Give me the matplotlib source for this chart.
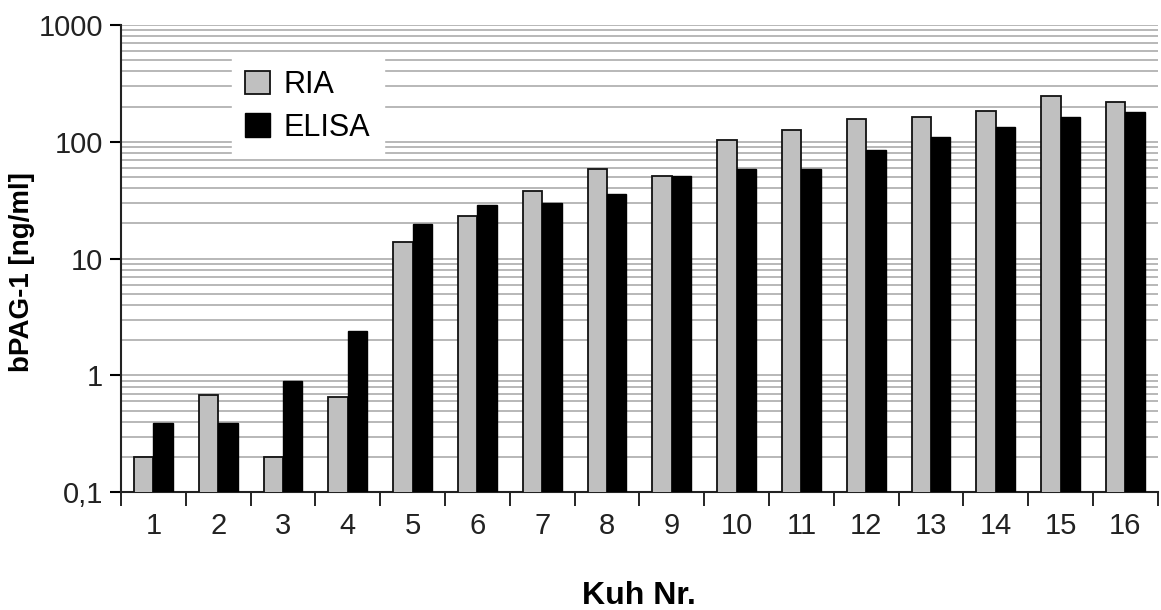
import matplotlib.pyplot as plt
import numpy as np
from matplotlib.ticker import FixedLocator, NullFormatter, LogLocator

plt.rcParams["font.family"] = ["Liberation Sans", "DejaVu Sans"]

cows = [str(i) for i in range(1, 17)]
ria = [0.2, 0.68, 0.2, 0.65, 14, 23, 38, 58, 51, 103, 127, 157, 163, 185, 249, 218]
elisa = [0.39, 0.39, 0.89, 2.4, 19.7, 28.6, 29.7, 35.5, 51, 58, 58, 85, 109, 134, 164, 179]

y_ticks = [0.1, 1, 10, 100, 1000]
y_tick_labels = ["0,1", "1", "10", "100", "1000"]

fig = plt.figure(figsize=(11.61, 6.10), dpi=100)
ax = fig.add_axes([0.1042, 0.193, 0.893, 0.766])

x = np.arange(len(cows))
width = 0.3

ax.bar(x - width / 2, ria, width, color="#c0c0c0", edgecolor="#111111",
       linewidth=1.3, label="RIA", zorder=3)
ax.bar(x + width / 2, elisa, width, color="black", edgecolor="black",
       linewidth=1.0, label="ELISA", zorder=3)

ax.set_yscale("log")
ax.set_ylim(0.1, 1000)
ax.set_xlim(-0.5, len(cows) - 0.5)

ax.yaxis.set_major_locator(FixedLocator(y_ticks))
ax.set_yticklabels(y_tick_labels)
ax.yaxis.set_minor_locator(LogLocator(base=10, subs=np.arange(2, 10)))
ax.yaxis.set_minor_formatter(NullFormatter())
ax.grid(True, which="both", axis="y", color="#b8b8b8", linewidth=1.4, zorder=0)
ax.tick_params(axis="y", which="minor", length=0)
ax.tick_params(axis="y", which="major", length=8, width=1.5, labelsize=21,
               labelcolor="#222222", pad=5)

# category boundaries as ticks, labels at centres
ax.set_xticks(np.arange(-0.5, len(cows), 1.0))
ax.set_xticklabels([])
ax.set_xticks(x, minor=True)
ax.set_xticklabels(cows, minor=True)
ax.tick_params(axis="x", which="major", length=10, width=1.2)
ax.tick_params(axis="x", which="minor", length=0, labelsize=21, pad=14,
               labelcolor="#222222")

for side in ["top", "right"]:
    ax.spines[side].set_visible(False)
for side in ["left", "bottom"]:
    ax.spines[side].set_linewidth(1.5)
    ax.spines[side].set_color("#222222")

ax.set_xlabel("Kuh Nr.", fontsize=23, fontweight="bold", labelpad=30)
ax.set_ylabel("bPAG-1 [ng/ml]", fontsize=20, fontweight="bold")
ax.yaxis.set_label_coords(-0.083, 0.471)

leg = ax.legend(loc="upper left", bbox_to_anchor=(0.092, 0.965), frameon=True,
                fontsize=22, handlelength=0.8, handleheight=0.8, handletextpad=0.45,
                labelspacing=0.4, borderpad=0.45, fancybox=False)
leg.get_frame().set_edgecolor("white")
leg.get_frame().set_facecolor("white")
leg.get_frame().set_alpha(1)
leg.set_zorder(5)

fig.savefig("out.png", dpi=100)
